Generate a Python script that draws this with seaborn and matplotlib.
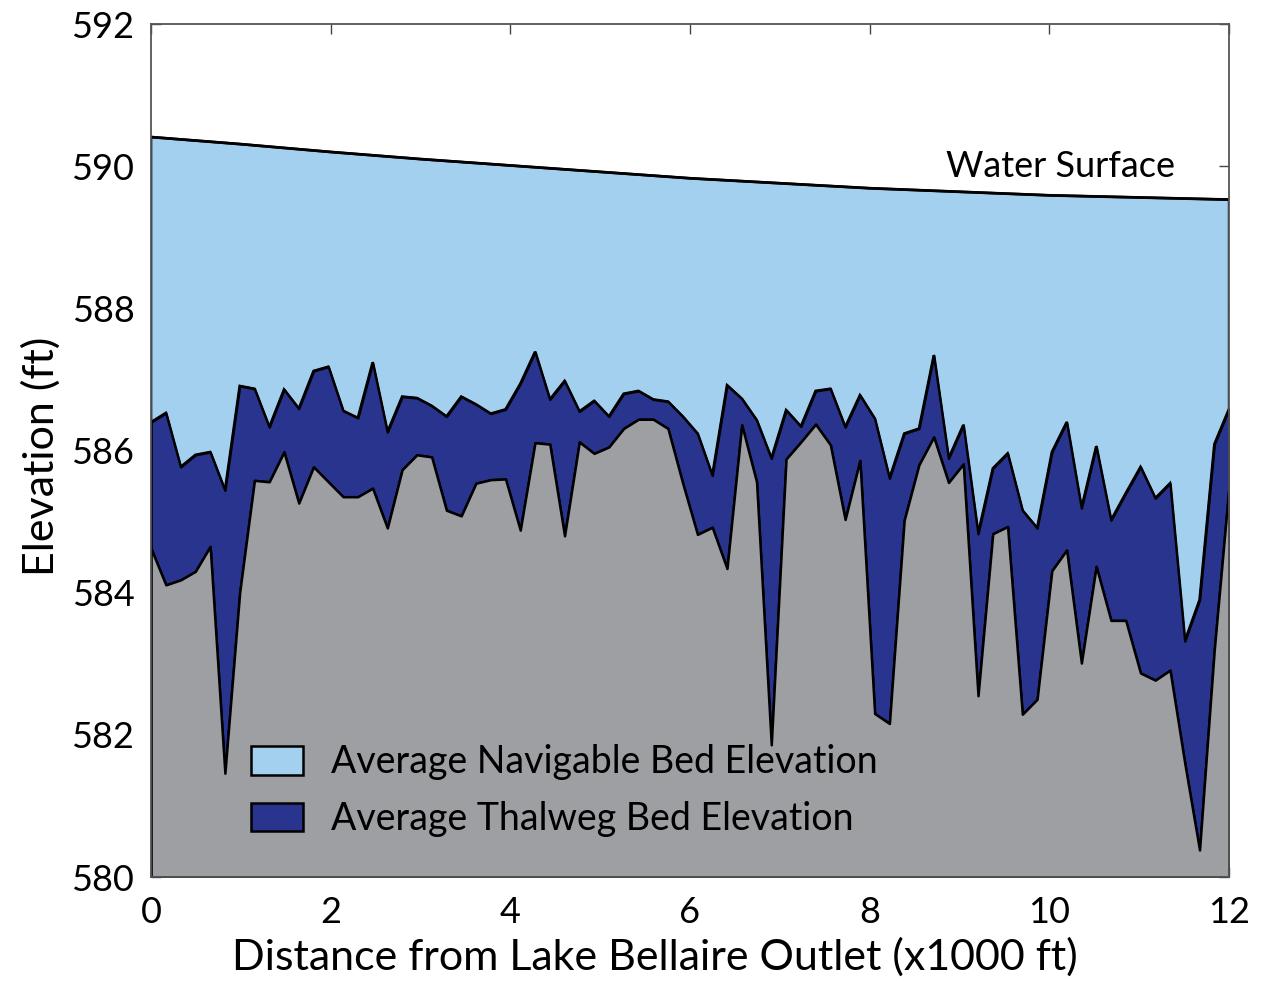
import numpy as np
import matplotlib
matplotlib.use("Agg")
import matplotlib.pyplot as plt
from matplotlib.patches import Patch
import seaborn as sns

# survey stations along the channel (x1000 ft), evenly spaced
distance = np.linspace(0, 12, 74)

navigable = [586.40, 586.53, 585.77, 585.94, 585.98, 585.44, 586.91, 586.87, 586.33, 586.86,
             586.59, 587.12, 587.18, 586.56, 586.46, 587.24, 586.26, 586.76, 586.74, 586.63,
             586.48, 586.76, 586.65, 586.52, 586.58, 586.94, 587.39, 586.72, 586.98, 586.55,
             586.70, 586.48, 586.80, 586.84, 586.72, 586.69, 586.48, 586.24, 585.65, 586.92,
             586.73, 586.43, 585.89, 586.57, 586.34, 586.84, 586.87, 586.33, 586.78, 586.45,
             585.61, 586.24, 586.31, 587.34, 585.89, 586.36, 584.83, 585.75, 585.96, 585.16,
             584.91, 585.98, 586.40, 585.19, 586.06, 585.02, 585.40, 585.77, 585.33, 585.54,
             583.32, 583.90, 586.09, 586.59]

thalweg = [584.62, 584.11, 584.18, 584.30, 584.65, 581.46, 584.00, 585.58, 585.56, 585.98,
           585.26, 585.77, 585.56, 585.35, 585.35, 585.47, 584.91, 585.73, 585.94, 585.91,
           585.16, 585.08, 585.54, 585.59, 585.60, 584.88, 586.11, 586.09, 584.80, 586.12,
           585.96, 586.05, 586.31, 586.44, 586.44, 586.31, 585.54, 584.82, 584.92, 584.34,
           586.36, 585.56, 581.86, 585.88, 586.12, 586.37, 586.08, 585.03, 585.86, 582.30,
           582.16, 585.02, 585.80, 586.19, 585.55, 585.81, 582.55, 584.83, 584.93, 582.29,
           582.50, 584.31, 584.60, 583.01, 584.37, 583.61, 583.61, 582.87, 582.77, 582.91,
           581.60, 580.38, 583.20, 585.50]

ws_distance = [0, 1, 2, 3, 4, 5, 6, 7, 8, 9, 10, 11, 12]
water_surface = [590.41, 590.31, 590.20, 590.10, 590.01, 589.92, 589.83, 589.76,
                 589.69, 589.64, 589.59, 589.56, 589.53]

light_blue = "#a4d0f0"
dark_blue = "#29348f"
gray = "#9e9fa3"

sns.set_style("ticks")
plt.rcParams["font.family"] = ["Lato", "DejaVu Sans"]
plt.rcParams["text.color"] = "black"
plt.rcParams["axes.labelcolor"] = "black"

fig = plt.figure(figsize=(12.62, 9.81), dpi=100)
ax = fig.add_axes([0.1197, 0.106, 0.8542, 0.8695])

# water column above the navigable bed
poly_x = list(ws_distance) + list(distance[::-1])
poly_y = list(water_surface) + list(navigable[::-1])
ax.fill(poly_x, poly_y, facecolor=light_blue, edgecolor="black", linewidth=1.8, zorder=1)

ax.fill_between(distance, thalweg, navigable, facecolor=dark_blue, edgecolor="black",
                linewidth=1.8, zorder=2)
ax.fill_between(distance, 580, thalweg, facecolor=gray, edgecolor="black",
                linewidth=1.8, zorder=3)
sns.lineplot(x=ws_distance, y=water_surface, color="black", linewidth=2, ax=ax, zorder=4)

ax.text(11.40, 590.0, "Water Surface", ha="right", va="center", fontsize=26)

ax.set_xlim(0, 12)
ax.set_ylim(580, 592)
ax.set_xticks(range(0, 13, 2))
ax.set_yticks(range(580, 593, 2))
ax.tick_params(direction="in", length=7, width=1, colors="#444444", labelcolor="black",
               labelsize=26, top=True, right=True)
ax.tick_params(axis="y", pad=12)
ax.tick_params(axis="x", pad=14)
for s in ax.spines.values():
    s.set_color("#555555")
    s.set_linewidth(1.3)
    s.set_zorder(5)

ax.set_xlabel("Distance from Lake Bellaire Outlet (x1000 ft)", fontsize=31, labelpad=6, x=0.4675)
ax.set_ylabel("Elevation (ft)", fontsize=31, labelpad=8, y=0.493)

handles = [Patch(facecolor=light_blue, edgecolor="black", linewidth=1.8),
           Patch(facecolor=dark_blue, edgecolor="black", linewidth=1.8)]
ax.legend(handles, ["Average Navigable Bed Elevation", "Average Thalweg Bed Elevation"],
          loc="lower left", bbox_to_anchor=(0.075, 0.025), frameon=False, fontsize=27,
          handlelength=1.4, handleheight=0.8, handletextpad=0.75, labelspacing=0.55,
          borderpad=0)

fig.savefig("out.png", dpi=100)
